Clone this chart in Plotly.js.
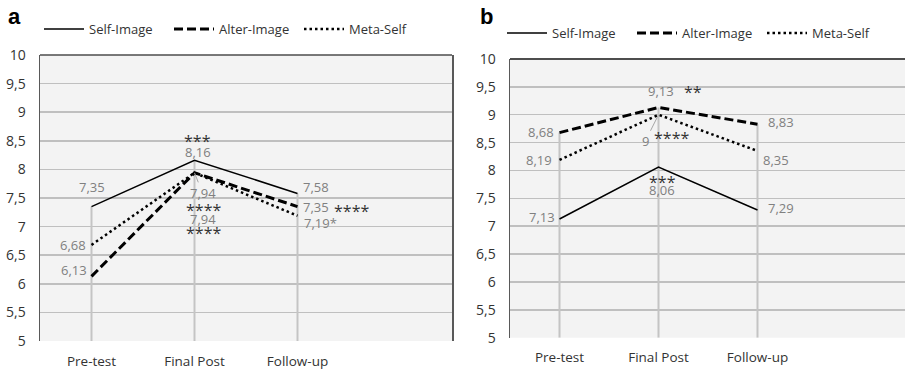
<!DOCTYPE html>
<html><head><meta charset="utf-8">
<script src="https://cdn.plot.ly/plotly-3.0.1.min.js"></script>
<style>html,body{margin:0;padding:0;background:#fff}#chart{width:905px;height:370px}</style>
</head><body><div id="chart"></div>
<script>
// ---------- data ----------
const categories = ['Pre-test', 'Final Post', 'Follow-up'];
const seriesNames = ['Self-Image', 'Alter-Image', 'Meta-Self'];
// panel a
const aSelf  = [7.35, 8.16, 7.58];
const aAlter = [6.13, 7.94, 7.35];
const aMeta  = [6.68, 7.94, 7.19];
// panel b
const bSelf  = [7.13, 8.06, 7.29];
const bAlter = [8.68, 9.13, 8.83];
const bMeta  = [8.19, 9.00, 8.35];
// significance marks
const aSelfSig  = ['', '***', ''];
const aAlterSig = ['', '****', '****'];
const aMetaSig  = ['', '****', '*'];
const bSelfSig  = ['', '***', ''];
const bAlterSig = ['', '**', ''];
const bMetaSig  = ['', '****', ''];
const panelLetters = ['a', 'b'];

// ---------- styles ----------
const F = 'Open Sans, sans-serif';
const LABEL_GREY = '#808080';
const STAR = '#333333';
const lineStyles = [
  {color: '#000', width: 1.5, dash: 'solid'},
  {color: '#000', width: 3, dash: '9px,4px'},
  {color: '#000', width: 2.5, dash: '2.5px,3px'}
];

// label placement (pixels; dy positive = up)
const aLabelPos = [
  [{dx: 0, dy: 20}, {dx: 3, dy: 8}, {dx: 3, dy: 6, anchor: 'left'}],
  [{dx: -3, dy: 6, anchor: 'right'}, {dx: 8, dy: -20, leader: true}, {dx: 3, dy: 0, anchor: 'left'}],
  [{dx: -4, dy: 0, anchor: 'right'}, {dx: 8, dy: -46}, {dx: 4, dy: -7, anchor: 'left', attach: true}]
];
const aSigPos = [
  [null, {dx: 3, dy: 19}, null],
  [null, {dx: 9, dy: -37}, {dx: 34, dy: -4, anchor: 'left'}],
  [null, {dx: 9, dy: -60}, null]
];
const bLabelPos = [
  [{dx: -3, dy: 2, anchor: 'right'}, {dx: 3, dy: -23}, {dx: 9, dy: 2, anchor: 'left'}],
  [{dx: -4, dy: 1, anchor: 'right'}, {dx: 2, dy: 16}, {dx: 9, dy: 2, anchor: 'left'}],
  [{dx: -6, dy: 0, anchor: 'right'}, {dx: -13, dy: -26, leader: true}, {dx: 4, dy: -9, anchor: 'left'}]
];
const bSigPos = [
  [null, {dx: 4, dy: -15}, null],
  [null, {dx: 34, dy: 15}, null],
  [null, {dx: 13, dy: -23}, null]
];

const fmt = v => String(v).replace('.', ',');

function buildPanel(series, sigs, labelPos, sigPos, xa, ya, legendId) {
  const traces = [];
  // drop lines from axis bottom to the highest value of each category
  const dx = [], dy = [];
  categories.forEach((c, i) => {
    const m = Math.max(...series.map(s => s[i]));
    dx.push(c, c, c); dy.push(5, m, null);
  });
  traces.push({x: dx, y: dy, xaxis: xa, yaxis: ya, mode: 'lines', showlegend: false,
    hoverinfo: 'skip', line: {color: '#c4c4c4', width: 2}, connectgaps: false});
  series.forEach((s, k) => {
    traces.push({x: categories, y: s, name: seriesNames[k], xaxis: xa, yaxis: ya,
      mode: 'lines', line: lineStyles[k], legend: legendId});
  });
  const ann = [];
  const xref = xa, yref = ya;
  series.forEach((s, k) => {
    s.forEach((v, i) => {
      const p = labelPos[k][i];
      let text = fmt(v);
      if (p.attach) text += sigs[k][i];
      const a = {xref, yref, x: categories[i], y: v, text, showarrow: false,
        xanchor: p.anchor || 'center', yanchor: 'middle', xshift: p.dx, yshift: p.dy,
        font: {family: F, size: 13, color: LABEL_GREY}};
      if (p.leader) {
        Object.assign(a, {showarrow: true, arrowhead: 0, arrowwidth: 1, arrowcolor: '#a6a6a6',
          ax: p.dx, ay: -p.dy, xshift: 0, yshift: 0, standoff: 0});
      }
      ann.push(a);
      const q = sigPos[k][i];
      if (q && sigs[k][i]) {
        ann.push({xref, yref, x: categories[i], y: v, text: sigs[k][i], showarrow: false,
          xanchor: q.anchor || 'center', yanchor: 'middle', xshift: q.dx, yshift: q.dy,
          font: {family: F, size: 16, color: STAR}});
      }
    });
  });
  return {traces, ann};
}

const pa = buildPanel([aSelf, aAlter, aMeta], [aSelfSig, aAlterSig, aMetaSig], aLabelPos, aSigPos, 'x', 'y', 'legend');
const pb = buildPanel([bSelf, bAlter, bMeta], [bSelfSig, bAlterSig, bMetaSig], bLabelPos, bSigPos, 'x2', 'y2', 'legend2');

const W = 905, H = 370;
const px = v => v / W, py = v => (H - v) / H;

const yBase = {range: [5, 10], tick0: 5, dtick: 0.5, gridcolor: '#bfbfbf', gridwidth: 1.5,
  showline: true, linecolor: '#595959', linewidth: 1.5, ticks: '', zeroline: false,
  ticklabelstandoff: 10, tickfont: {family: F, size: 14, color: '#333'}, fixedrange: true};
const xBase = {type: 'category', range: [-0.5, 3.5], showgrid: false, showline: false, ticks: '',
  zeroline: false, tickfont: {family: F, size: 13.5, color: '#333'}, ticklabelstandoff: 10, fixedrange: true};

const legendBase = {orientation: 'h', xanchor: 'left', yanchor: 'middle',
  entrywidthmode: 'pixels', bgcolor: 'rgba(0,0,0,0)', borderwidth: 0, itemwidth: 40,
  font: {family: F, size: 13, color: '#333'}, itemclick: false, itemdoubleclick: false};

const layout = {
  width: W, height: H, margin: {l: 0, r: 0, t: 0, b: 0},
  paper_bgcolor: '#fff', plot_bgcolor: '#f3f3f3', separators: ', ',
  showlegend: true,
  xaxis: Object.assign({}, xBase, {domain: [px(40), px(452)], anchor: 'y'}),
  yaxis: Object.assign({}, yBase, {domain: [py(341), py(55)], anchor: 'x', mirror: true}),
  xaxis2: Object.assign({}, xBase, {domain: [px(510), 1], anchor: 'y2', range: [-0.5, 3.49]}),
  yaxis2: Object.assign({}, yBase, {domain: [py(337.7), py(59)], anchor: 'x2', mirror: false}),
  legend: Object.assign({}, legendBase, {x: px(39), y: py(29), entrywidth: 75}),
  legend2: Object.assign({}, legendBase, {x: px(502), y: py(33), entrywidth: 75}),
  shapes: [
    {type: 'line', xref: 'x domain', yref: 'y domain', x0: 0, x1: 1, y0: 1, y1: 1,
      line: {color: '#4d4d4d', width: 1.5}, layer: 'above'},
    {type: 'line', xref: 'x2 domain', yref: 'y2 domain', x0: 0, x1: 1, y0: 1, y1: 1,
      line: {color: '#4d4d4d', width: 2}, layer: 'above'}
  ],
  annotations: pa.ann.concat(pb.ann).concat([
    {xref: 'paper', yref: 'paper', x: px(6), y: py(16), text: '<b>' + panelLetters[0] + '</b>', showarrow: false,
      xanchor: 'left', yanchor: 'middle', font: {family: 'Liberation Sans, Arial, sans-serif', size: 22, color: '#000'}},
    {xref: 'paper', yref: 'paper', x: px(478), y: py(16), text: '<b>' + panelLetters[1] + '</b>', showarrow: false,
      xanchor: 'left', yanchor: 'middle', font: {family: 'Liberation Sans, Arial, sans-serif', size: 22, color: '#000'}}
  ])
};

Plotly.newPlot('chart', pa.traces.concat(pb.traces), layout, {displayModeBar: false, staticPlot: true});
</script></body></html>
